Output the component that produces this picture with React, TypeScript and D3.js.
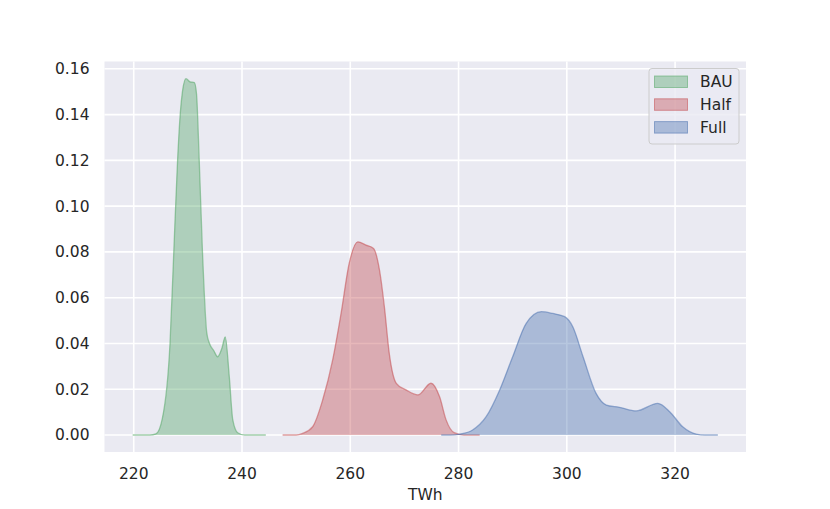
import React from "react";
import * as d3 from "d3";

const xTicks = [220, 240, 260, 280, 300, 320];
const yTicks = [0, 0.02, 0.04, 0.06, 0.08, 0.1, 0.12, 0.14, 0.16];

const bauX = [219.8, 223.0, 224.1, 225.3, 226.7, 227.4, 228.1, 228.6, 229.0, 229.65, 230.4, 231.2, 231.6, 232.1, 232.7, 233.5, 234.0, 234.8, 235.5, 236.3, 236.9, 237.65, 238.3, 239.2, 240.5, 244.4];
const bauY = [0, 0, 0.0005, 0.0074, 0.040, 0.080, 0.120, 0.1406, 0.150, 0.1557, 0.1543, 0.154, 0.149, 0.120, 0.080, 0.0445, 0.040, 0.0368, 0.0342, 0.038, 0.0429, 0.0255, 0.0066, 0.001, 0, 0];

const halfX = [247.5, 250.0, 251.2, 253.05, 254.9, 256.75, 258.3, 259.8, 261.4, 262.9, 264.3, 265.4, 266.3, 267.2, 268.5, 270.3, 272.5, 274.9, 276.5, 277.7, 279.2, 281.0, 283.9];
const halfY = [0, 0, 0.0007, 0.0036, 0.0153, 0.0328, 0.0531, 0.075, 0.0844, 0.083, 0.0815, 0.072, 0.056, 0.0357, 0.0226, 0.0197, 0.0175, 0.0226, 0.0167, 0.0066, 0.001, 0, 0];

const fullX = [276.8, 278.5, 280.2, 282.6, 285.1, 287.6, 290.0, 292.5, 295.3, 297.4, 299.6, 301.1, 303.0, 305.4, 307.3, 309.7, 312.8, 316.8, 319.0, 321.4, 323.9, 325.5, 327.9];
const fullY = [0, 0, 0.0004, 0.0022, 0.008, 0.0197, 0.0342, 0.0488, 0.0539, 0.0531, 0.0517, 0.0473, 0.0342, 0.0182, 0.0131, 0.0121, 0.0105, 0.0138, 0.0102, 0.0036, 0.0004, 0, 0];

const seriesNames = ["BAU", "Half", "Full"];
const seriesColors = ["#55A868", "#C44E52", "#4C72B0"];

export default function App() {
  const W = 830, H = 509;
  const left = 104.5, right = 746, top = 61.5, bottom = 452;
  const x = d3.scaleLinear().domain([214.6, 333.1]).range([left, right]);
  const y = d3.scaleLinear().domain([-0.00743, 0.1632]).range([bottom, top]);

  const series = [
    { xs: bauX, ys: bauY },
    { xs: halfX, ys: halfY },
    { xs: fullX, ys: fullY },
  ];

  const area = d3
    .area<[number, number]>()
    .x((d) => x(d[0]))
    .y0(() => y(0))
    .y1((d) => y(d[1]))
    .curve(d3.curveMonotoneX);
  const line = d3
    .line<[number, number]>()
    .x((d) => x(d[0]))
    .y((d) => y(d[1]))
    .curve(d3.curveMonotoneX);

  const font = "DejaVu Sans, sans-serif";
  const fs = 15.5;

  return (
    <svg width={W} height={H} style={{ position: "absolute", left: 0, top: 0 }} fontFamily={font}>
      <rect x={0} y={0} width={W} height={H} fill="#ffffff" />
      <rect x={left} y={top} width={right - left} height={bottom - top} fill="#EAEAF2" />
      {xTicks.map((t) => (
        <line key={"gx" + t} x1={x(t)} x2={x(t)} y1={top} y2={bottom} stroke="#ffffff" strokeWidth={1.6} />
      ))}
      {yTicks.map((t) => (
        <line key={"gy" + t} x1={left} x2={right} y1={y(t)} y2={y(t)} stroke="#ffffff" strokeWidth={1.6} />
      ))}
      {series.map((s, i) => {
        const pts = s.xs.map((v, j) => [v, s.ys[j]] as [number, number]);
        return (
          <g key={"s" + i}>
            <path d={area(pts) || ""} fill={seriesColors[i]} fillOpacity={0.4} stroke="none" />
            <path d={line(pts) || ""} fill="none" stroke={seriesColors[i]} strokeOpacity={0.55} strokeWidth={1.3} />
          </g>
        );
      })}
      {xTicks.map((t) => (
        <text key={"tx" + t} x={x(t)} y={479} textAnchor="middle" fontSize={fs} fill="#262626">
          {t}
        </text>
      ))}
      {yTicks.map((t) => (
        <text key={"ty" + t} x={89.5} y={y(t)} dy="0.35em" textAnchor="end" fontSize={fs} fill="#262626">
          {t.toFixed(2)}
        </text>
      ))}
      <text x={(left + right) / 2} y={500} textAnchor="middle" fontSize={fs} fill="#262626">
        TWh
      </text>
      <rect x={649} y={68.5} width={90} height={75.5} rx={3} fill="#EAEAF2" fillOpacity={0.8} stroke="#cccccc" strokeWidth={1} />
      {seriesNames.map((n, i) => (
        <g key={"l" + n}>
          <rect x={654.5} y={76 + i * 22.8} width={33} height={11.5} fill={seriesColors[i]} fillOpacity={0.4} stroke={seriesColors[i]} strokeOpacity={0.55} strokeWidth={1} />
          <text x={700} y={82 + i * 22.8} dy="0.35em" fontSize={fs} fill="#262626">
            {n}
          </text>
        </g>
      ))}
    </svg>
  );
}
